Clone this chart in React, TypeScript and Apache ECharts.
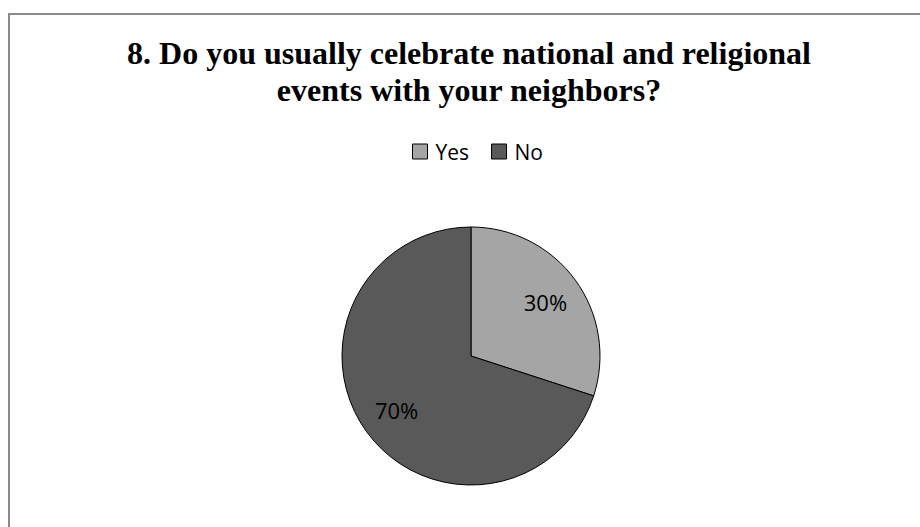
import React, { useEffect, useRef } from "react";
import * as echarts from "echarts";

const titleLines = [
  "8. Do you usually celebrate national and religional",
  "events with your neighbors?",
];
const categories = ["Yes", "No"];
const values = [30, 70];
const colors = ["#A5A5A5", "#595959"];

export default function App() {
  const ref = useRef<HTMLDivElement>(null);
  useEffect(() => {
    if (!ref.current) return;
    const chart = echarts.init(ref.current, null, { renderer: "svg" });
    const data = categories.map((c, i) => ({
      name: c,
      value: values[i],
      itemStyle: { color: colors[i] },
    }));
    chart.setOption({
      animation: false,
      backgroundColor: "#fff",
      title: {
        text: titleLines.join("\n"),
        left: 469,
        textAlign: "center",
        top: 34,
        padding: 0,
        textStyle: {
          fontFamily: "Liberation Serif",
          fontWeight: "bold",
          fontSize: 32,
          lineHeight: 37,
          color: "#000",
        },
      },
      legend: {
        left: 412,
        top: 141,
        padding: 0,
        itemWidth: 15,
        itemHeight: 15,
        itemGap: 22,
        icon: "rect",
        selectedMode: false,
        textStyle: {
          fontFamily: "Open Sans",
          fontSize: 21,
          color: "#000",
          padding: [0, 0, 0, 3],
        },
        data: categories.map((c, i) => ({
          name: c,
          itemStyle: { color: colors[i], borderColor: "#000", borderWidth: 1 },
        })),
      },
      graphic: [
        {
          type: "rect",
          shape: { x: 9, y: 14, width: 1000, height: 1000 },
          style: { fill: "none", stroke: "#8a8a8a", lineWidth: 2 },
          silent: true,
        },
      ],
      series: [
        {
          type: "pie",
          center: [471, 356],
          radius: [0, 129],
          startAngle: 90,
          clockwise: true,
          label: { show: false },
          labelLine: { show: false },
          emphasis: { disabled: true },
          itemStyle: { borderColor: "#000", borderWidth: 1 },
          data,
        },
        {
          type: "pie",
          center: [471, 356],
          radius: [49, 129],
          startAngle: 90,
          clockwise: true,
          silent: true,
          itemStyle: { color: "transparent", borderWidth: 0 },
          label: {
            show: true,
            position: "inside",
            formatter: "{d}%",
            fontFamily: "Open Sans",
            fontSize: 22,
            color: "#000",
          },
          labelLine: { show: false },
          emphasis: { disabled: true },
          data: categories.map((c, i) => ({ name: c, value: values[i] })),
        },
      ],
    });
    return () => chart.dispose();
  }, []);
  return (
    <div
      ref={ref}
      style={{ position: "fixed", left: 0, top: 0, width: 920, height: 527 }}
    />
  );
}
